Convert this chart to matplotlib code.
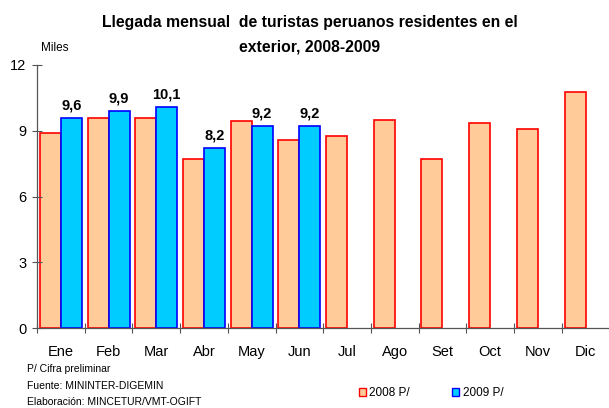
import numpy as np
import matplotlib
matplotlib.use("Agg")
import matplotlib.pyplot as plt
from matplotlib.patches import Patch

plt.rcParams['font.family'] = ['Liberation Sans Narrow', 'Liberation Sans', 'DejaVu Sans']

meses = ['Ene', 'Feb', 'Mar', 'Abr', 'May', 'Jun', 'Jul', 'Ago', 'Set', 'Oct', 'Nov', 'Dic']
llegadas_2008 = [8.9, 9.6, 9.6, 7.7, 9.45, 8.6, 8.75, 9.5, 7.7, 9.35, 9.1, 10.75]
llegadas_2009 = [9.6, 9.9, 10.1, 8.2, 9.2, 9.2]
etiquetas_2009 = ['9,6', '9,9', '10,1', '8,2', '9,2', '9,2']

gris = '#555555'

fig = plt.figure(figsize=(6.09, 4.08), dpi=100)
ax = fig.add_axes([37 / 609, 1 - 328 / 408, 572.4 / 609, 263 / 408])

x = np.arange(len(meses))
ancho = 0.44
ax.bar(x - ancho / 2, llegadas_2008, ancho, color='#ffcc99', edgecolor='#ff0000', linewidth=1.2)
x9 = x[:len(llegadas_2009)]
ax.bar(x9 + ancho / 2, llegadas_2009, ancho, color='#00ccff', edgecolor='#0000ff', linewidth=1.2)

for xi, v, t in zip(x9, llegadas_2009, etiquetas_2009):
    ax.text(xi + ancho / 2, v + 0.25, t, ha='center', va='bottom', fontsize=10.5, fontweight='bold')

ax.set_xlim(-0.5, 11.5)
ax.set_ylim(0, 12)
ax.set_yticks([0, 3, 6, 9, 12])
ax.set_yticklabels(['0', '3', '6', '9', '12'], fontsize=10.5)
ax.set_xticks(np.arange(-0.5, 11, 1))
ax.set_xticklabels([])
ax.set_xticks(x, minor=True)
ax.set_xticklabels(meses, minor=True, fontsize=10.5)
ax.tick_params(axis='x', which='major', direction='inout', length=7, width=0.8, color=gris)
ax.tick_params(axis='x', which='minor', length=0, pad=12)
ax.tick_params(axis='y', direction='inout', length=7, width=0.8, color=gris, pad=4)
for s in ['top', 'right']:
    ax.spines[s].set_visible(False)
for s in ['left', 'bottom']:
    ax.spines[s].set_linewidth(0.9)
    ax.spines[s].set_color(gris)

fig.text(310 / 609, 1 - 22 / 408, 'Llegada mensual  de turistas peruanos residentes en el',
         ha='center', va='center', fontsize=11.3, fontweight='bold')
fig.text(310 / 609, 1 - 47 / 408, 'exterior, 2008-2009',
         ha='center', va='center', fontsize=11.3, fontweight='bold')
fig.text(41 / 608, 1 - 48 / 408, 'Miles', ha='left', va='center', fontsize=8.5)

fig.text(27 / 609, 1 - 369 / 408, 'P/ Cifra preliminar', fontsize=7.5, va='center')
fig.text(27 / 609, 1 - 386 / 408, 'Fuente: MININTER-DIGEMIN', fontsize=7.5, va='center')
fig.text(27 / 609, 1 - 402 / 408, 'Elaboración: MINCETUR/VMT-OGIFT', fontsize=7.5, va='center')

handles = [Patch(facecolor='#ffcc99', edgecolor='#ff0000', label='2008 P/'),
           Patch(facecolor='#00ccff', edgecolor='#0000ff', label='2009 P/')]
fig.legend(handles=handles, loc='center left', bbox_to_anchor=(348 / 609, 1 - 393 / 408),
           ncol=2, frameon=False, fontsize=8.5, handlelength=0.6, handleheight=0.6,
           handletextpad=0.3, columnspacing=3.6)

fig.savefig('out.png', dpi=100)
